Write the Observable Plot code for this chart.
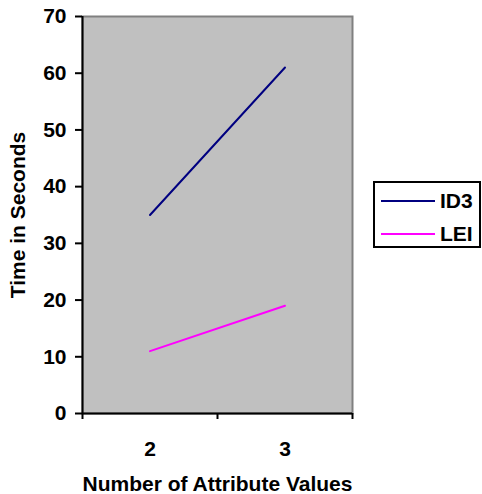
<!DOCTYPE html>
<html><head><meta charset="utf-8">
<script src="https://cdn.jsdelivr.net/npm/d3@7"></script>
<script src="https://cdn.jsdelivr.net/npm/@observablehq/plot@0.6"></script>
<style>
body{margin:0;background:#fff;}
#wrap{position:relative;width:482px;height:494px;overflow:hidden;}
#wrap svg text{font-weight:bold !important;}
#wrap svg g[aria-label="x-axis label"] text, #wrap svg g[aria-label="y-axis label"] text{font-size:21px;}
.legend{position:absolute;left:373px;top:181px;width:104px;height:63px;border:2px solid #000;background:#fff;font:bold 21px "Liberation Sans",Arial,sans-serif;}
.item{position:absolute;left:0;width:104px;height:20px;}
.sw{position:absolute;left:6px;top:9px;width:54px;height:2px;}
.lab{position:absolute;left:65px;top:0;line-height:20px;}
</style>
</head><body><div id="wrap"></div>
<script>
const categories = [2, 3];
const seriesNames = ["ID3", "LEI"];
const id3Values = [35, 61];
const leiValues = [11, 19];
const seriesColors = ["#000080", "#ff00ff"];
const yTicks = [0, 10, 20, 30, 40, 50, 60, 70];

const rows = [];
categories.forEach((c, i) => {
  rows.push({cat: c, value: id3Values[i], series: "ID3"});
  rows.push({cat: c, value: leiValues[i], series: "LEI"});
});
const boundaries = categories.map(c => c - 0.5).concat([categories[categories.length - 1] + 0.5]);

const chart = Plot.plot({
  width: 482,
  height: 494,
  marginLeft: 82,
  marginRight: 130,
  marginTop: 16,
  marginBottom: 81,
  style: {fontFamily: '"Liberation Sans", Arial, sans-serif', fontSize: "21px", fontWeight: "bold", color: "#000", background: "#fff"},
  x: {type: "linear", domain: [boundaries[0], boundaries[boundaries.length - 1]]},
  y: {domain: [0, 70]},
  color: {domain: seriesNames, range: seriesColors},
  marks: [
    Plot.frame({fill: "#c0c0c0", stroke: "#808080", strokeWidth: 2}),
    Plot.ruleY([0], {stroke: "#000", strokeWidth: 2}),
    Plot.ruleX([boundaries[0]], {stroke: "#000", strokeWidth: 2}),
    Plot.axisY({ticks: yTicks, tickSize: 7, tickPadding: 9, tickFormat: d => String(d), strokeWidth: 2, fontWeight: "bold", fontSize: 21,
      label: "Time in Seconds", labelAnchor: "center", labelOffset: 72, labelArrow: "none"}),
    Plot.axisX({ticks: boundaries, tickSize: 6, tickFormat: () => "", strokeWidth: 2, label: null}),
    Plot.axisX({ticks: categories, tickSize: 0, tickPadding: 28, tickFormat: d => String(d), fontWeight: "bold", fontSize: 21,
      label: "Number of Attribute Values", labelAnchor: "center", labelOffset: 77, labelArrow: "none"}),
    Plot.line(rows, {x: "cat", y: "value", z: "series", stroke: "series", strokeWidth: 2})
  ]
});
const wrap = document.getElementById("wrap");
wrap.appendChild(chart);

const legend = document.createElement("div");
legend.className = "legend";
const itemTops = [8, 41];
seriesNames.forEach((name, i) => {
  const it = document.createElement("div");
  it.className = "item";
  it.style.top = itemTops[i] + "px";
  const sw = document.createElement("div");
  sw.className = "sw";
  sw.style.background = seriesColors[i];
  const lab = document.createElement("div");
  lab.className = "lab";
  lab.textContent = name;
  it.appendChild(sw); it.appendChild(lab);
  legend.appendChild(it);
});
wrap.appendChild(legend);
</script>
</body></html>
